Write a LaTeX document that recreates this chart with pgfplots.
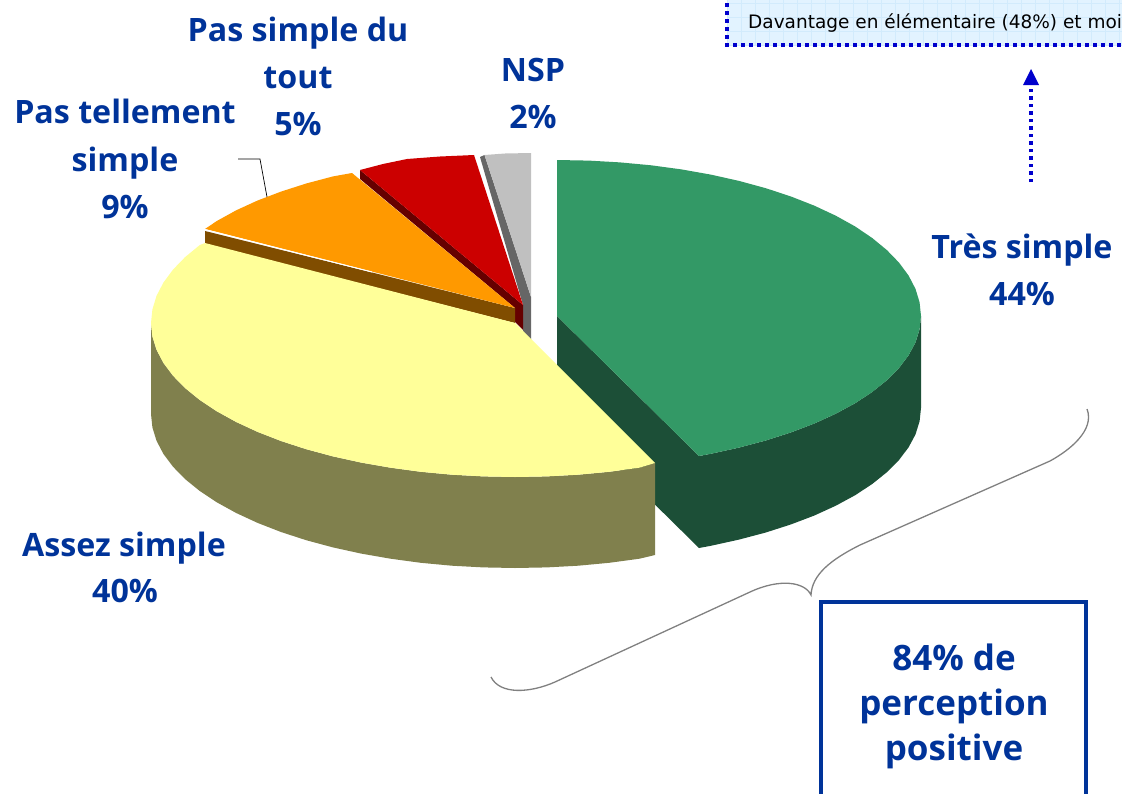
\documentclass[border=0pt]{standalone}
\usepackage{pgfplots}
\pgfplotsset{compat=1.18}
\usepackage{fontspec}
\setmainfont{DejaVu Sans}
\newfontfamily\labfont{Open Sans}
\definecolor{tblue}{HTML}{003399}
\definecolor{dblue}{HTML}{0000CC}
\definecolor{boxfill}{HTML}{E2F3FF}
\definecolor{boxgrid}{HTML}{D2EBFC}
\definecolor{gtop}{RGB}{51,153,102}
\definecolor{gside}{RGB}{28,79,55}
\definecolor{ygtop}{RGB}{255,255,153}
\definecolor{ygside}{RGB}{128,128,77}
\definecolor{ortop}{RGB}{255,153,0}
\definecolor{orside}{RGB}{128,77,0}
\definecolor{rdtop}{RGB}{204,0,0}
\definecolor{rdside}{RGB}{102,0,0}
\definecolor{grtop}{RGB}{192,192,192}
\definecolor{grside}{RGB}{102,102,102}
\newcommand{\bl}[3]{\node[anchor=base,text=tblue,font=\fontsize{32.2}{36}\selectfont\labfont\bfseries,inner sep=0pt] at (axis cs:#1,#2) {#3};}
\newcommand{\blb}[3]{\node[anchor=base,text=tblue,font=\fontsize{35}{40}\selectfont\labfont\bfseries,inner sep=0pt] at (axis cs:#1,#2) {#3};}
\begin{document}
\begin{tikzpicture}
\useasboundingbox (0,0) rectangle (1122pt,793pt);
\clip (0,0) rectangle (1122pt,793pt);
\begin{axis}[at={(0,0)},anchor=south west,width=1122pt,height=793pt,scale only axis,hide axis,
  xmin=0,xmax=1122,ymin=0,ymax=793,y dir=reverse,clip=false]
% top box
\addplot[draw=none,fill=boxfill] coordinates {(727,-5)(1130,-5)(1130,45)(727,45)} --cycle;
\pgfplotsinvokeforeach{0,1,...,28}{\draw[boxgrid,line width=0.6pt] (axis cs:{727+14*#1},0) -- (axis cs:{727+14*#1},45);}
\pgfplotsinvokeforeach{0,1,2,3}{\draw[boxgrid,line width=0.6pt] (axis cs:727,{3+14*#1}) -- (axis cs:1130,{3+14*#1});}
\addplot[dblue,line width=3.5pt,dash pattern=on 3.5pt off 4.5pt] coordinates {(727,-5)(727,45)(1130,45)};
\node[anchor=base west,inner sep=0pt,font=\fontsize{18.5}{20}\selectfont] at (axis cs:748,28) {Davantage en élémentaire (48\%) et moi};
% arrow
\addplot[dblue,line width=3.5pt,dash pattern=on 3.5pt off 4pt] coordinates {(1031,182)(1031,85)};
\addplot[draw=none,fill=dblue] coordinates {(1031,69)(1039,85)(1023,85)} --cycle;
% green
\addplot[draw=none,fill=gside] coordinates {(557,316)(699,456)(699,548)(557,408)} --cycle;
\addplot[draw=none,fill=gside] coordinates {(921,316)(919.6,329.2)(915.5,342.4)(908.6,355.3)(899,368)(886.9,380.2)(872.2,392)(855.2,403.2)(835.8,413.7)(814.4,423.5)(791,432.4)(765.8,440.5)(739,447.6)(710.8,453.8)(699,456)(699,548)(710.8,545.8)(739,539.6)(765.8,532.5)(791,524.4)(814.4,515.5)(835.8,505.7)(855.2,495.2)(872.2,484)(886.9,472.2)(899,460)(908.6,447.3)(915.5,434.4)(919.6,421.2)(921,408)} --cycle;
\addplot[draw=none,fill=gtop] coordinates {(557,316)(557,160)(588.7,160.6)(620.2,162.4)(651.2,165.3)(681.5,169.4)(710.8,174.6)(739,180.9)(765.8,188.2)(791,196.5)(814.4,205.7)(835.8,215.7)(855.2,226.5)(872.2,238)(886.9,250.1)(899,262.6)(908.6,275.6)(915.5,288.9)(919.6,302.4)(921,316)(919.6,329.2)(915.5,342.4)(908.6,355.3)(899,368)(886.9,380.2)(872.2,392)(855.2,403.2)(835.8,413.7)(814.4,423.5)(791,432.4)(765.8,440.5)(739,447.6)(710.8,453.8)(699,456)} --cycle;
% grey
\addplot[draw=none,fill=grside] coordinates {(480,157)(484.5,155)(531,297)(531,345)(523,335)(523,305)} --cycle;
\addplot[draw=none,fill=grtop] coordinates {(484.5,155)(505,153.5)(531,153)(531,297)} --cycle;
% red
\addplot[draw=none,fill=rdside] coordinates {(360,170)(523,305)(523,330)(515,322)(515,308)(360,179)} --cycle;
\addplot[draw=none,fill=rdtop] coordinates {(360,170)(383,164)(407,159)(440,156.5)(474,155)(523,305)} --cycle;
% orange
\addplot[draw=none,fill=orside] coordinates {(205,231)(515,308)(515,323)(205,244)} --cycle;
\addplot[draw=none,fill=ortop] coordinates {(515,308)(205,229)(216.8,221)(236.2,210.3)(257.6,200.5)(281,191.6)(306.2,183.5)(333,176.4)(352,173)} --cycle;
\addplot[white,line width=1pt] coordinates {(205,229.5)(372,272)};
% yellow
\addplot[draw=none,fill=ygside] coordinates {(655,463)(639.5,467.7)(609.2,471.8)(578.2,474.7)(546.7,476.4)(515,477)(483.3,476.4)(451.8,474.7)(420.8,471.8)(390.5,467.7)(361.2,462.6)(333,456.4)(306.2,449.2)(281,441)(257.6,431.9)(236.2,422)(216.8,411.3)(199.8,400)(185.1,388.1)(173,375.7)(163.4,362.9)(156.5,349.7)(152.4,336.4)(151,323)(151,414)(152.4,427.4)(156.5,440.7)(163.4,453.9)(173,466.7)(185.1,479.1)(199.8,491)(216.8,502.3)(236.2,513)(257.6,522.9)(281,532)(306.2,540.2)(333,547.4)(361.2,553.6)(390.5,558.7)(420.8,562.8)(451.8,565.7)(483.3,567.4)(515,568)(546.7,567.4)(578.2,565.7)(609.2,562.8)(639.5,558.7)(655,555)} --cycle;
\addplot[draw=none,fill=ygtop] coordinates {(515,323)(655,463)(639.5,467.7)(609.2,471.8)(578.2,474.7)(546.7,476.4)(515,477)(483.3,476.4)(451.8,474.7)(420.8,471.8)(390.5,467.7)(361.2,462.6)(333,456.4)(306.2,449.2)(281,441)(257.6,431.9)(236.2,422)(216.8,411.3)(199.8,400)(185.1,388.1)(173,375.7)(163.4,362.9)(156.5,349.7)(152.4,336.4)(151,323)(152.4,309.4)(156.5,295.9)(163.4,282.6)(173,269.6)(185.1,257.1)(199.8,245)(205,243)} --cycle;
% leader
\addplot[black,line width=0.7pt] coordinates {(238,159)(260,159)(267,197)};
% brace
\draw[gray,line width=1.3pt] (axis cs:1087,409) .. controls (axis cs:1095,430) and (axis cs:1070,450) .. (axis cs:1050,461) -- (axis cs:860,545) .. controls (axis cs:830,560) and (axis cs:812,575) .. (axis cs:811,595) .. controls (axis cs:805,582) and (axis cs:780,578) .. (axis cs:750,592) -- (axis cs:555,682) .. controls (axis cs:530,693) and (axis cs:500,695) .. (axis cs:491,677);
% box
\addplot[tblue,line width=4pt] coordinates {(821,800)(821,602)(1086,602)(1086,800)};
% labels
\bl{298}{41}{Pas simple du}\bl{298}{88}{tout}\bl{298}{135}{5\%}
\bl{125}{123}{Pas tellement}\bl{125}{171}{simple}\bl{125}{218}{9\%}
\bl{533}{81}{NSP}\bl{533}{128}{2\%}
\bl{1022}{258}{Très simple}\bl{1022}{305}{44\%}
\bl{124}{556}{Assez simple}\bl{125}{602}{40\%}
\blb{954}{670}{84\% de}\blb{954}{715}{perception}\blb{954}{760}{positive}
\end{axis}
\end{tikzpicture}
\end{document}
